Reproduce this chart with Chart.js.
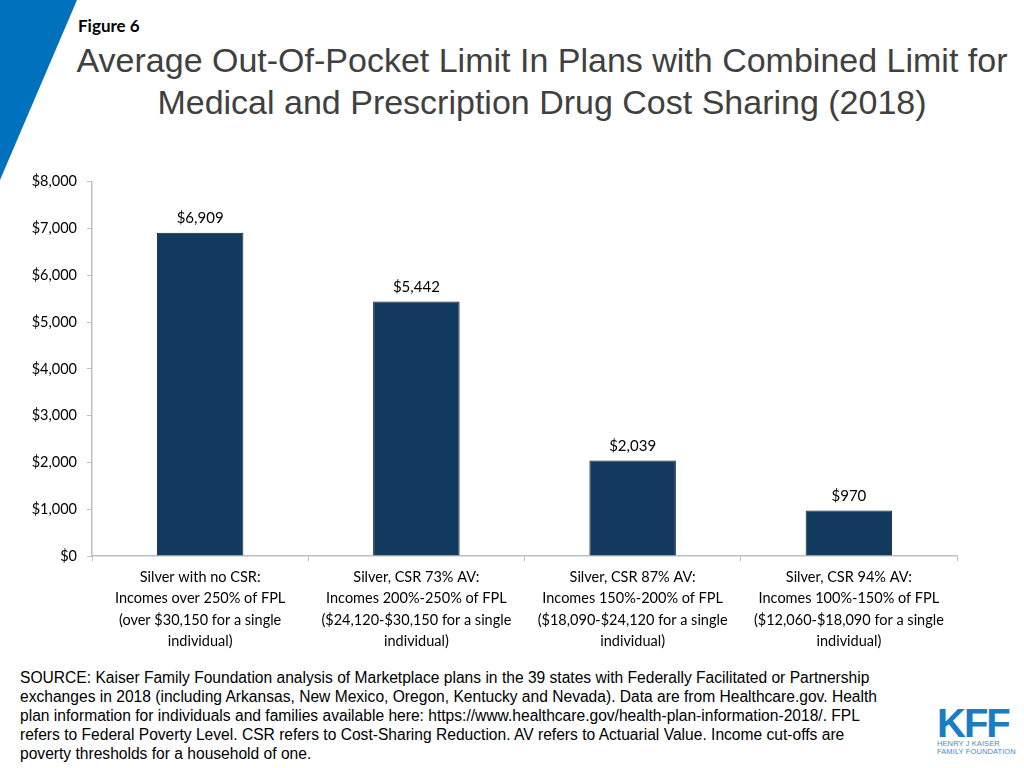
<!DOCTYPE html>
<html>
<head>
<meta charset="utf-8">
<script src="https://cdn.jsdelivr.net/npm/chart.js@4.4.0/dist/chart.umd.min.js"></script>
<style>
  html, body { margin:0; padding:0; background:#fff; }
  body { width:1024px; height:768px; position:relative; overflow:hidden; }
  #tri { position:absolute; left:0; top:0; }
  #fig { position:absolute; left:78px; top:15px; font-family:Lato, "Open Sans", sans-serif; font-weight:bold; font-size:17px; color:#000; }
  #title { position:absolute; left:60px; width:964px; top:39px; text-align:center; font-family:"Liberation Sans", Arial, sans-serif; font-size:34px; line-height:42px; color:#404040; white-space:nowrap; }
  #wrap { position:absolute; left:0; top:163px; width:1024px; height:497px; }
  #src { position:absolute; left:20px; top:668px; width:863px; font-family:"Liberation Sans", Arial, sans-serif; font-size:15.6px; line-height:19px; color:#000; }
  #logo { position:absolute; left:937px; top:706px; font-family:"Liberation Sans", Arial, sans-serif; color:#1a7dc4; }
  #logo .big { font-size:40px; font-weight:bold; letter-spacing:-2px; line-height:34px; }
  #logo .small { font-size:7.5px; line-height:8px; letter-spacing:0.1px; color:#4a8cc4; }
</style>
</head>
<body>
<svg id="tri" width="90" height="190"><polygon points="0,0 77,0 0,180" fill="#0071bc"/></svg>
<div id="fig">Figure 6</div>
<div id="title">Average Out-Of-Pocket Limit In Plans with Combined Limit for<br>Medical and Prescription Drug Cost Sharing (2018)</div>
<div id="wrap"><canvas id="c" width="1024" height="497"></canvas></div>
<div id="src">SOURCE: Kaiser Family Foundation analysis of Marketplace plans in the 39 states with Federally Facilitated or Partnership exchanges in 2018 (including Arkansas, New Mexico, Oregon, Kentucky and Nevada). Data are from Healthcare.gov. Health plan information for individuals and families available here: https://www.healthcare.gov/health-plan-information-2018/. FPL refers to Federal Poverty Level. CSR refers to Cost-Sharing Reduction. AV refers to Actuarial Value. Income cut-offs are poverty thresholds for a household of one.</div>
<div id="logo"><div class="big">KFF</div><div class="small">HENRY J KAISER<br>FAMILY FOUNDATION</div></div>
<script>
const categories = [
  ["Silver with no CSR:", "Incomes over 250% of FPL", "(over $30,150 for a single", "individual)"],
  ["Silver, CSR 73% AV:", "Incomes 200%-250% of FPL", "($24,120-$30,150 for a single", "individual)"],
  ["Silver, CSR 87% AV:", "Incomes 150%-200% of FPL", "($18,090-$24,120 for a single", "individual)"],
  ["Silver, CSR 94% AV:", "Incomes 100%-150% of FPL", "($12,060-$18,090 for a single", "individual)"]
];
const values = [6909, 5442, 2039, 970];
const yTicks = [0, 1000, 2000, 3000, 4000, 5000, 6000, 7000, 8000];

const fmt = v => "$" + v.toLocaleString("en-US");
const FONT = "Lato, 'Open Sans', sans-serif";

const labelPlugin = {
  id: "valLabels",
  afterDatasetsDraw(chart) {
    const ctx = chart.ctx;
    const meta = chart.getDatasetMeta(0);
    ctx.save();
    ctx.font = "15px " + FONT;
    ctx.fillStyle = "#000";
    ctx.textAlign = "center";
    ctx.textBaseline = "bottom";
    meta.data.forEach((bar, i) => {
      ctx.fillText(fmt(values[i]), bar.x, bar.y - 7);
    });
    ctx.restore();
  }
};

new Chart(document.getElementById("c"), {
  type: "bar",
  data: {
    labels: categories,
    datasets: [{
      data: values,
      backgroundColor: "#123a5e",
      borderColor: "#0b2238",
      borderWidth: 1,
      categoryPercentage: 1.0,
      barPercentage: 0.4
    }]
  },
  options: {
    responsive: false,
    animation: false,
    layout: { padding: { top: 3, right: 67, left: 0, bottom: 0 } },
    plugins: { legend: { display: false }, tooltip: { enabled: false } },
    scales: {
      x: {
        grid: { display: true, drawOnChartArea: false, drawTicks: true, tickLength: 5, color: "#bfbfbf", offset: true },
        border: { color: "#bfbfbf", width: 1.5 },
        ticks: { color: "#000", font: { family: FONT, size: 14.5, lineHeight: 1.46 }, padding: 6, maxRotation: 0, autoSkip: false },
        afterFit(s) { s.height = 104; }
      },
      y: {
        min: 0, max: 8000,
        afterBuildTicks(s) { s.ticks = yTicks.map(v => ({ value: v })); },
        grid: { display: true, drawOnChartArea: false, drawTicks: true, tickLength: 5, color: "#bfbfbf" },
        border: { color: "#bfbfbf", width: 1.5 },
        ticks: { color: "#000", font: { family: FONT, size: 14.5 }, padding: 10, callback: v => fmt(v) },
        afterFit(s) { s.width = 92; }
      }
    }
  },
  plugins: [labelPlugin]
});
</script>
</body>
</html>
